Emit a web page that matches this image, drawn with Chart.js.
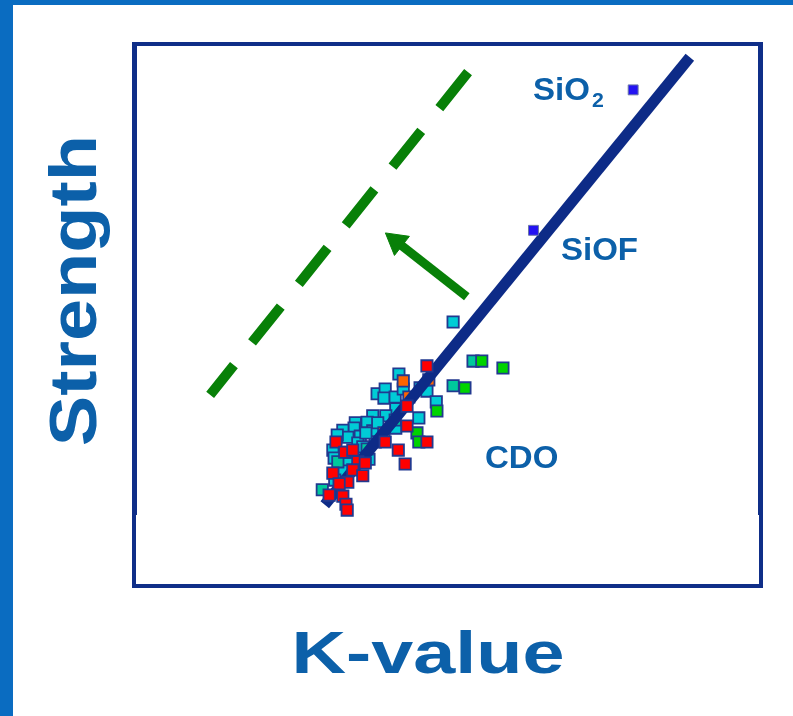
<!DOCTYPE html>
<html>
<head>
<meta charset="utf-8">
<script src="https://cdn.jsdelivr.net/npm/chart.js@4.4.1/dist/chart.umd.min.js"></script>
<style>
  body { margin: 0; background: #fff; width: 793px; height: 716px; overflow: hidden; position: relative;
         font-family: "Liberation Sans", Arial, sans-serif; font-weight: bold; }
  .bar { position: absolute; background: #0a6cc1; }
  .frame { position: absolute; left: 132px; top: 42px; width: 623px; height: 538px; border: 4px solid #0f2e88; }
  .tick { position: absolute; width: 1px; background: #0f2e88; }
  .lbl { position: absolute; color: #0c60a9; white-space: nowrap; line-height: 1; transform-origin: 0 0; }
  .small { font-size: 31px; transform: scaleX(1.065); }
  .small sub { font-size: 20px; vertical-align: baseline; position: relative; top: 7px; margin-left: 2px; }
  #chart { position: absolute; left: 0; top: 0; }
</style>
</head>
<body>
<div class="bar" style="left:0;top:0;width:793px;height:5px"></div>
<div class="bar" style="left:0;top:0;width:13px;height:716px"></div>
<div class="frame"></div>
<div class="tick" style="left:136px;top:46px;height:469px"></div>
<div class="tick" style="left:758px;top:46px;height:469px"></div>
<canvas id="chart" width="793" height="716"></canvas>

<div class="lbl small" style="left:533px;top:74px">SiO<sub>2</sub></div>
<div class="lbl small" style="left:561px;top:234px">SiOF</div>
<div class="lbl small" style="left:485px;top:442px">CDO</div>
<div class="lbl" style="left:0;top:0;width:400px;text-align:center;font-size:66px;transform:translate(40px,520px) rotate(-90deg) scaleX(1.147)">Strength</div>
<div class="lbl" style="left:228px;top:623px;width:400px;text-align:center;font-size:59.5px;transform-origin:center;transform:scaleX(1.27)">K-value</div>

<script>
// K-value (x) and strength (y) readings, 0-100 relative units
const cyanK = [50.9, 42.2, 38.7, 40.0, 39.8, 41.6, 42.9, 45.6, 46.7, 48.2, 41.7, 40.1, 38.0, 37.1, 35.2,
               35.0, 33.2, 38.0, 41.7, 45.4, 34.0, 36.0, 38.4, 35.6, 31.6, 37.4, 34.0, 33.2, 31.9,
               36.4, 34.3, 31.8, 32.3, 36.9, 38.8];
const cyanS = [48.7, 39.0, 35.3, 36.2, 34.5, 34.7, 36.2, 36.4, 35.8, 33.8, 32.5, 31.2, 31.2, 30.0, 29.9,
               28.9, 28.5, 28.4, 28.9, 30.8, 27.2, 27.4, 26.3, 26.1, 24.8, 23.1, 22.6, 20.9, 19.2,
               25.4, 24.4, 23.3, 27.6, 28.0, 29.9];

const tealK = [54.1, 50.9, 41.6, 37.1, 32.4, 29.9];
const tealS = [41.4, 36.8, 30.4, 25.0, 22.6, 17.4];

const greenK = [55.5, 58.9, 52.8, 48.3, 45.1, 45.4];
const greenS = [41.4, 40.1, 36.4, 32.1, 28.0, 26.3];

const orangeK = [42.9, 47.0, 43.8, 39.8];
const orangeS = [37.7, 37.9, 34.7, 28.0];

const redK = [46.7, 43.5, 43.5, 40.0, 46.7, 32.1, 33.5, 34.8, 42.1, 35.6, 36.8, 43.2, 31.6, 34.8, 36.4,
              34.0, 32.6, 31.0, 33.2, 33.7, 33.9];
const redS = [40.5, 33.0, 29.3, 26.3, 26.3, 26.3, 24.4, 24.8, 24.8, 22.6, 22.4, 22.2, 20.5, 21.1, 20.0,
              18.8, 18.5, 16.4, 16.2, 14.7, 13.6];

const oxideK = [79.8, 63.8];   // SiO2, SiOF
const oxideS = [92.0, 65.8];

const trendK = [30.3, 88.9];
const trendS = [14.6, 98.1];
const targetK = [53.3, 11.9];
const targetS = [95.3, 35.1];
const arrowK = [53.1, 41.8];
const arrowS = [53.4, 63.7];

function pts(xs, ys) {
  return xs.map((x, i) => ({ x: x, y: ys[i] }));
}

function squares(xs, ys, fill, order) {
  return {
    data: pts(xs, ys),
    pointStyle: 'rect',
    pointRadius: 8,
    backgroundColor: fill,
    borderColor: '#22398f',
    borderWidth: 1.8,
    order: order
  };
}

const chart = new Chart(document.getElementById('chart'), {
  type: 'scatter',
  data: {
    datasets: [
      {
        data: pts(oxideK, oxideS),
        pointStyle: 'rect',
        pointRadius: 7,
        backgroundColor: '#2312f2',
        borderColor: '#6a76a8',
        borderWidth: 1,
        order: 0
      },
      squares(redK, redS, '#ff0000', 1),
      {
        data: pts(trendK, trendS),
        showLine: true,
        borderColor: '#0d2b87',
        borderWidth: 11,
        pointRadius: 0,
        order: 2
      },
      squares(greenK, greenS, '#00d400', 3),
      squares(orangeK, orangeS, '#ff6400', 4),
      squares(tealK, tealS, '#00c89c', 5),
      squares(cyanK, cyanS, '#00ccd6', 6),
      {
        data: pts(targetK, targetS),
        showLine: true,
        borderColor: '#088008',
        borderWidth: 10,
        borderDash: [46, 29],
        pointRadius: 0,
        order: 7
      },
      {
        data: pts(arrowK, arrowS),
        showLine: true,
        borderColor: '#088008',
        borderWidth: 9,
        pointStyle: 'triangle',
        pointRadius: ctx => ctx.dataIndex === 1 ? 14 : 0,
        pointBackgroundColor: '#088008',
        pointBorderColor: '#088008',
        pointBorderWidth: 1,
        pointRotation: ctx => {
          const xs = ctx.chart.scales.x, ys = ctx.chart.scales.y;
          const dx = xs.getPixelForValue(arrowK[1]) - xs.getPixelForValue(arrowK[0]);
          const dy = ys.getPixelForValue(arrowS[1]) - ys.getPixelForValue(arrowS[0]);
          return Math.atan2(dy, dx) * 180 / Math.PI + 90;
        },
        order: 8
      }
    ]
  },
  options: {
    responsive: false,
    animation: false,
    layout: { padding: { left: 136, right: 34, top: 47, bottom: 133 } },
    plugins: { legend: { display: false }, tooltip: { enabled: false } },
    scales: {
      x: { type: 'linear', min: 0, max: 100, display: false },
      y: { type: 'linear', min: 0, max: 100, display: false }
    }
  }
});
</script>
</body>
</html>
